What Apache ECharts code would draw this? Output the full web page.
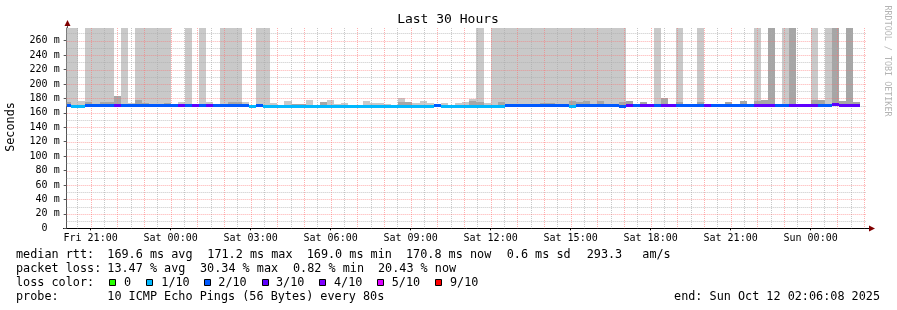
<!DOCTYPE html>
<html><head><meta charset="utf-8">
<script src="https://cdn.jsdelivr.net/npm/echarts@6/dist/echarts.min.js"></script>
<style>html,body{margin:0;padding:0;background:#fff}#c{width:897px;height:310px}</style>
</head><body><div id="c"></div>
<script>
// time in minutes since Fri 00:00; 16-minute consolidated columns starting Fri 20:00
const colStartMin = 1200;
const colStep = 16;
const viewStart = 1206.13;   // Fri 20:06:08
const viewEnd = 3006.13;     // Sun 02:06:08
const yMax = 277.6;

// median rtt per column (ms)
const median = [
 170.0,169.4,169.4,170.0,170.0,170.0,170.0,170.6,170.0,170.0,
 170.0,170.0,170.0,170.0,170.0,170.0,170.3,170.0,170.3,170.0,
 170.3,170.0,170.0,170.0,170.0,170.0,169.0,170.0,169.4,169.4,
 169.2,169.4,169.4,169.2,169.4,169.4,169.2,169.4,169.4,169.2,
 169.4,169.4,169.2,169.4,169.4,169.4,169.2,169.4,169.4,169.4,
 169.4,169.2,169.7,169.4,169.4,169.2,169.4,169.4,169.4,169.4,
 169.4,169.4,169.7,169.7,169.7,169.7,169.7,169.7,169.7,169.7,
 169.7,169.4,170.0,170.0,170.0,170.0,170.0,170.0,169.0,170.0,
 170.0,170.0,170.0,170.0,170.0,170.0,170.0,170.0,170.0,170.0,
 170.0,170.0,170.0,170.0,170.6,170.0,170.0,170.0,170.0,170.0,
 170.0,170.0,170.0,170.0,170.3,170.3,170.3,170.0,171.2,170.6,
 170.3,170.3
];
// lost pings out of 10 per column
const lossCount = [
 2,1,1,2,2,2,2,3,2,2,
 2,2,2,2,2,2,3,2,3,2,
 3,2,2,2,2,2,1,2,1,1,
 1,1,1,1,1,1,1,1,1,1,
 1,1,1,1,1,1,1,1,1,1,
 1,1,2,1,1,1,1,1,1,1,
 1,1,2,2,2,2,2,2,2,2,
 2,1,2,2,2,2,2,2,2,3,
 2,3,3,2,3,3,2,2,2,2,
 3,2,2,2,2,2,2,3,3,3,
 2,2,3,3,3,3,2,2,3,3,
 3,3
];
const T = 320; // off-scale smoke (beyond top of graph)
// outer (light) smoke top per column (ms)
const outerTop = [
 T,T,176.4,T,T,T,T,null,T,173.5,
 T,T,T,T,T,null,175,T,null,T,
 175,null,T,T,T,175,null,T,T,173.7,
 null,176.4,null,null,177.8,null,null,177.8,172.8,173.7,
 null,null,176.4,173.7,173.7,172.8,null,180.6,null,173.7,
 176.4,173.7,null,173.7,null,173.7,175.5,179.7,T,173.7,
 T,T,T,T,T,T,T,T,T,T,
 T,T,T,T,T,T,T,T,T,null,
 null,null,null,T,null,null,T,null,null,T,
 null,null,null,null,null,null,null,T,null,null,
 null,T,null,null,null,T,null,T,null,null,
 null,null
];
// inner (dark) smoke top per column (ms)
const innerTop = [
 175,null,null,175,null,175,175,183.4,null,null,
 177.8,173.7,null,null,173.7,null,null,null,null,null,
 null,null,null,175,175,null,null,null,null,null,
 null,null,172.8,172.8,null,null,175,null,null,null,
 null,null,null,null,null,null,null,175,175,null,
 null,null,null,null,null,null,null,177,175,null,
 null,175,null,null,null,null,null,173.7,173.7,null,
 null,176.4,175,176.4,null,176.4,null,null,175,176.4,
 null,175,null,null,180.6,null,175,null,null,175,
 null,null,null,175,null,176.4,null,176.4,177.8,T,
 null,null,T,null,null,177.8,177.8,null,T,176.4,
 T,175
];
const lossColors = {0:'#26ff00',1:'#00b8ff',2:'#0059ff',3:'#5e00ff',4:'#7e00ff',5:'#dd00ff',9:'#ff0000'};
const legendLoss = [0,1,2,3,4,5,9];
const xLabelMinutes = [1260,1440,1620,1800,1980,2160,2340,2520,2700,2880];
const yLabelValues = [0,20,40,60,80,100,120,140,160,180,200,220,240,260];
const dayNames = ['Fri','Sat','Sun'];

const MONO = '"DejaVu Sans Mono", monospace';

function colData(tops){
  const out = [];
  for (let k = 0; k < median.length; k++) {
    if (tops[k] == null) continue;
    const t0 = colStartMin + k*colStep;
    out.push([t0, t0 + colStep, median[k], tops[k]]);
  }
  return out;
}
const medData = median.map((m,k)=>{const t0=colStartMin+k*colStep;return [t0,t0+colStep,m,lossCount[k]];});

function bandRender(color){
  return function(params, api){
    const p0 = api.coord([api.value(0), api.value(3)]);
    const p1 = api.coord([api.value(1), api.value(2)]);
    const cs = params.coordSys;
    const x0 = Math.round(p0[0]), x1 = Math.round(p1[0]);
    const r = echarts.graphic.clipRectByRect(
      {x:x0, y:Math.round(p0[1]), width:x1-x0, height:Math.round(p1[1])-Math.round(p0[1])},
      {x:cs.x, y:cs.y, width:cs.width, height:cs.height});
    if (!r) return;
    return {type:'rect', shape:r, style:{fill:color}};
  };
}
function medRender(params, api){
  const p0 = api.coord([api.value(0), api.value(2)]);
  const p1 = api.coord([api.value(1), api.value(2)]);
  const cs = params.coordSys;
  const x0 = Math.max(Math.round(p0[0]), Math.round(cs.x));
  const x1 = Math.min(Math.round(p1[0]), Math.round(cs.x+cs.width));
  const yc = p0[1];
  return {type:'rect', shape:{x:x0, y:Math.round(yc-1.5), width:x1-x0, height:3},
          style:{fill:lossColors[api.value(3)]}};
}
const vGrid = [];
for (let m = 1230; m <= 3000; m += 30) vGrid.push([m, 0]);
const hGrid = [];
for (let v = 10; v <= 270; v += 10) hGrid.push([viewStart, v]);

const MAJ = 'rgba(255,110,110,0.55)', MIN = 'rgba(170,170,170,0.65)';
function vGridRender(params, api){
  const m = api.value(0);
  const p = api.coord([m, 0]);
  const cs = params.coordSys;
  const x = Math.round(p[0]) + 0.5;
  return {type:'line', shape:{x1:x, y1:cs.y, x2:x, y2:cs.y+cs.height},
    style:{stroke: (m % 60 === 0) ? MAJ : MIN, lineWidth:1, lineDash:[1,1]}};
}
function hGridRender(params, api){
  const v = api.value(1);
  const p = api.coord([viewStart, v]);
  const cs = params.coordSys;
  const y = Math.round(p[1]) + 0.5;
  return {type:'line', shape:{x1:cs.x, y1:y, x2:cs.x+cs.width, y2:y},
    style:{stroke: (v % 20 === 0) ? MAJ : MIN, lineWidth:1, lineDash:[1,1]}};
}

const LFONT = '11.8px ' + MONO;
const txt = (text, x, y, opts={}) => Object.assign({type:'text', silent:true,
  style:Object.assign({text, x, y, font:LFONT, fill:'#000', verticalAlign:'middle', textAlign:'left'}, opts.style||{})},
  opts.extra||{});

const graphics = [
  txt('Last 30 Hours', 448, 19.5, {style:{font:'13px '+MONO, textAlign:'center'}}),
  {type:'text', silent:true, x:11, y:127, rotation:Math.PI/2,
   style:{text:'Seconds', font:LFONT, fill:'#000', textAlign:'center', verticalAlign:'middle'}},
  {type:'text', silent:true, x:887, y:61, rotation:-Math.PI/2,
   style:{text:'RRDTOOL / TOBI OETIKER', font:'8.4px '+MONO, fill:'#b4b4b4', textAlign:'center', verticalAlign:'middle'}},
  // axis extensions and arrows
  {type:'line', silent:true, shape:{x1:67.5, y1:26, x2:67.5, y2:29}, style:{stroke:'#555', lineWidth:1}},
  {type:'polygon', silent:true, shape:{points:[[64.5,26],[70.5,26],[67.5,20]]}, style:{fill:'#800000'}},
  {type:'line', silent:true, shape:{x1:866, y1:228.5, x2:870, y2:228.5}, style:{stroke:'#000', lineWidth:1}},
  {type:'polygon', silent:true, shape:{points:[[869,225.5],[869,231.5],[875,228.5]]}, style:{fill:'#800000'}},
  {type:'line', silent:true, shape:{x1:63, y1:228.5, x2:67, y2:228.5}, style:{stroke:'#000', lineWidth:1}},
  // legend
  txt('median rtt:', 16, 255),
  txt('169.6 ms avg', 107.3, 255), txt('171.2 ms max', 207.3, 255), txt('169.0 ms min', 306.7, 255),
  txt('170.8 ms now', 406, 255), txt('0.6 ms sd', 506.7, 255), txt('293.3', 586.7, 255), txt('am/s', 642.3, 255),
  txt('packet loss:', 16, 268.5),
  txt('13.47 % avg', 107.3, 268.5), txt('30.34 % max', 200, 268.5), txt('0.82 % min', 293, 268.5), txt('20.43 % now', 378, 268.5),
  txt('loss color:', 16, 282.5),
  txt('probe:', 16, 296.5),
  txt('10 ICMP Echo Pings (56 Bytes) every 80s', 107.3, 296.5),
  txt('end: Sun Oct 12 02:06:08 2025', 880, 296.5, {style:{textAlign:'right'}})
];
const boxX = [109, 146, 203.7, 261.7, 319.3, 376.7, 435];
const boxLabelX = [124, 161.3, 218.3, 276, 334, 391.7, 450];
legendLoss.forEach((l, i) => {
  graphics.push({type:'rect', silent:true, shape:{x:Math.round(boxX[i])+0.5, y:279.5, width:6, height:6},
    style:{fill:lossColors[l], stroke:'#000', lineWidth:1}});
  graphics.push(txt(l === 0 ? '0' : (l + '/10'), boxLabelX[i], 282.5));
});

const chart = echarts.init(document.getElementById('c'), null, {renderer:'canvas'});
chart.setOption({
  animation:false,
  backgroundColor:'#fff',
  grid:{left:66.67, right:30.33, top:28, bottom:81.7, containLabel:false},
  xAxis:{type:'value', min:viewStart, max:viewEnd, z:1,
    splitLine:{show:false},
    axisLine:{show:true, lineStyle:{color:'#000', width:1}},
    axisTick:{show:true, length:2, customValues:xLabelMinutes, lineStyle:{color:'#000'}},
    axisLabel:{customValues:xLabelMinutes, margin:5, fontSize:10, fontFamily:MONO, color:'#000',
      formatter:v => dayNames[Math.floor(v/1440)] + ' ' + String(Math.floor((v%1440)/60)).padStart(2,'0') + ':00'}},
  yAxis:{type:'value', min:0, max:yMax, z:1,
    splitLine:{show:false},
    axisLine:{show:true, lineStyle:{color:'#555', width:1}},
    axisTick:{show:true, length:3, customValues:yLabelValues, lineStyle:{color:'#555'}},
    axisLabel:{customValues:yLabelValues, margin:7, fontSize:10, fontFamily:MONO, color:'#000',
      formatter:v => v === 0 ? '0  ' : (v + ' m')}},
  graphic:graphics,
  series:[
    {type:'custom', z:2, silent:true, renderItem:bandRender('#c9c9c9'), encode:{x:[0,1], y:[2,3]}, data:colData(outerTop)},
    {type:'custom', z:3, silent:true, renderItem:bandRender('#a6a6a6'), encode:{x:[0,1], y:[2,3]}, data:colData(innerTop)},
    {type:'custom', z:4, silent:true, renderItem:vGridRender, encode:{x:0, y:1}, data:vGrid},
    {type:'custom', z:4, silent:true, renderItem:hGridRender, encode:{x:0, y:1}, data:hGrid},
    {type:'custom', z:5, silent:true, renderItem:medRender, encode:{x:[0,1], y:2}, data:medData}
  ]
});
</script></body></html>
